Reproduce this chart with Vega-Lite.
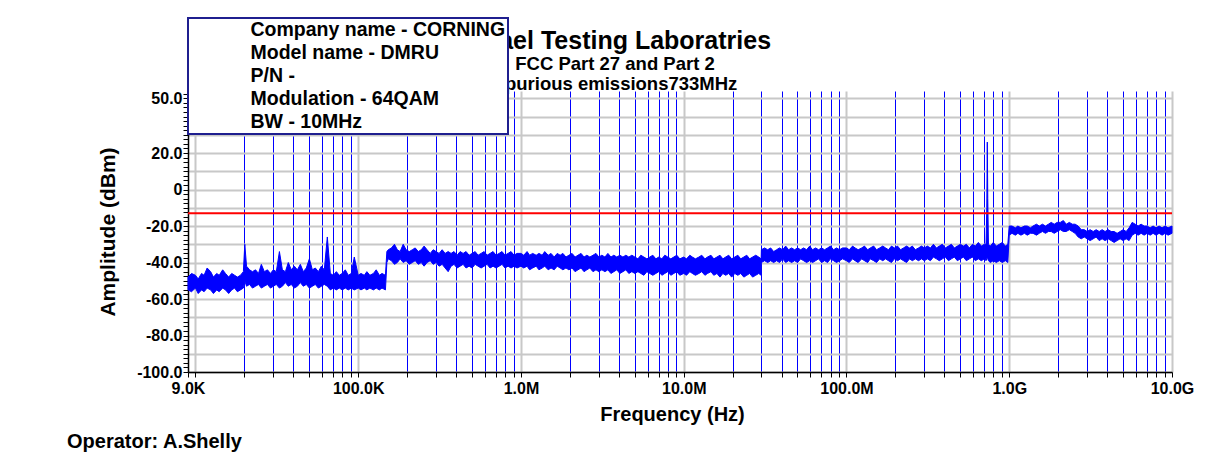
{
  "$schema": "https://vega.github.io/schema/vega-lite/v6.json",
  "width": 984,
  "height": 281,
  "autosize": {"type": "none"},
  "padding": {"left": 188, "top": 91, "right": 57, "bottom": 85},
  "background": "white",
  "title": {
    "text": "Rafael Testing Laboratries",
    "subtitle": ["FCC Part 27 and Part 2", "Spurious emissions733MHz"],
    "fontSize": 25,
    "subtitleFontSize": 18.5,
    "fontWeight": "bold",
    "subtitleFontWeight": "bold",
    "color": "black",
    "subtitleColor": "black",
    "anchor": "middle",
    "dx": -65,
    "dy": 78,
    "offset": 2,
    "subtitlePadding": 1,
    "subtitleLineHeight": 20,
    "zindex": 0
  },
  "datasets": {
    "trace": [
      {"f":9000,"lo":-55,"hi":-48},{"f":9460,"lo":-56,"hi":-46},
      {"f":10000,"lo":-54,"hi":-47},{"f":10400,"lo":-57,"hi":-49},{"f":10900,"lo":-55,"hi":-46},{"f":11300,"lo":-56,"hi":-47},{"f":11800,"lo":-54,"hi":-43},{"f":12400,"lo":-55,"hi":-45},{"f":12900,"lo":-57,"hi":-48},{"f":13500,"lo":-55,"hi":-46},{"f":14000,"lo":-56,"hi":-47},{"f":14700,"lo":-54,"hi":-44},{"f":15300,"lo":-55,"hi":-46},{"f":16000,"lo":-57,"hi":-48},{"f":16700,"lo":-55,"hi":-46},{"f":17400,"lo":-54,"hi":-47},{"f":18100,"lo":-56,"hi":-48},{"f":18900,"lo":-55,"hi":-47},{"f":19700,"lo":-54,"hi":-45},{"f":20100,"lo":-50,"hi":-30},{"f":20600,"lo":-53,"hi":-42},{"f":21500,"lo":-52,"hi":-44},{"f":22400,"lo":-54,"hi":-45},{"f":23400,"lo":-53,"hi":-44},{"f":24400,"lo":-52,"hi":-46},{"f":25400,"lo":-54,"hi":-41},{"f":26500,"lo":-53,"hi":-45},{"f":27700,"lo":-52,"hi":-44},{"f":28900,"lo":-54,"hi":-46},{"f":30100,"lo":-53,"hi":-44},{"f":31400,"lo":-52,"hi":-45},{"f":32800,"lo":-54,"hi":-34},{"f":34200,"lo":-53,"hi":-44},{"f":35700,"lo":-51,"hi":-45},{"f":37200,"lo":-53,"hi":-40},{"f":38800,"lo":-52,"hi":-44},{"f":40500,"lo":-54,"hi":-42},{"f":42300,"lo":-53,"hi":-44},{"f":44100,"lo":-51,"hi":-41},{"f":46000,"lo":-53,"hi":-45},{"f":48000,"lo":-52,"hi":-43},{"f":50100,"lo":-54,"hi":-38},{"f":52300,"lo":-53,"hi":-44},{"f":54500,"lo":-52,"hi":-43},{"f":56900,"lo":-54,"hi":-45},{"f":59400,"lo":-53,"hi":-42},{"f":61900,"lo":-52,"hi":-44},{"f":64600,"lo":-53,"hi":-26},{"f":67400,"lo":-55,"hi":-46},{"f":70300,"lo":-54,"hi":-47},{"f":73400,"lo":-55,"hi":-45},{"f":76500,"lo":-54,"hi":-47},{"f":79800,"lo":-55,"hi":-46},{"f":83300,"lo":-54,"hi":-44},{"f":86900,"lo":-55,"hi":-47},{"f":90700,"lo":-54,"hi":-46},{"f":94600,"lo":-55,"hi":-37},
      {"f":100000,"lo":-54,"hi":-47},{"f":104000,"lo":-55,"hi":-46},{"f":109000,"lo":-54,"hi":-47},{"f":113000,"lo":-55,"hi":-45},{"f":118000,"lo":-54,"hi":-47},{"f":124000,"lo":-55,"hi":-46},{"f":129000,"lo":-54,"hi":-44},{"f":135000,"lo":-55,"hi":-47},{"f":140000,"lo":-54,"hi":-46},{"f":147000,"lo":-55,"hi":-47},{"f":150000,"lo":-40,"hi":-34},{"f":153000,"lo":-38,"hi":-33},{"f":160000,"lo":-39,"hi":-32},{"f":167000,"lo":-41,"hi":-30},{"f":174000,"lo":-40,"hi":-33},{"f":181000,"lo":-38,"hi":-34},{"f":189000,"lo":-40,"hi":-30},{"f":197000,"lo":-39,"hi":-33},{"f":206000,"lo":-41,"hi":-34},{"f":215000,"lo":-40,"hi":-33},{"f":224000,"lo":-39,"hi":-32},{"f":234000,"lo":-41,"hi":-34},{"f":244000,"lo":-40,"hi":-33},{"f":254000,"lo":-42,"hi":-31},{"f":265000,"lo":-40,"hi":-33},{"f":277000,"lo":-39,"hi":-35},{"f":289000,"lo":-41,"hi":-33},{"f":301000,"lo":-40,"hi":-34},{"f":314000,"lo":-42,"hi":-35},{"f":328000,"lo":-41,"hi":-33},{"f":342000,"lo":-43,"hi":-35},{"f":357000,"lo":-45,"hi":-34},{"f":372000,"lo":-42,"hi":-35},{"f":388000,"lo":-41,"hi":-34},{"f":405000,"lo":-43,"hi":-36},{"f":423000,"lo":-42,"hi":-34},{"f":441000,"lo":-41,"hi":-35},{"f":460000,"lo":-43,"hi":-34},{"f":480000,"lo":-42,"hi":-36},{"f":501000,"lo":-43,"hi":-35},{"f":523000,"lo":-41,"hi":-34},{"f":545000,"lo":-42,"hi":-36},{"f":569000,"lo":-43,"hi":-35},{"f":594000,"lo":-42,"hi":-34},{"f":619000,"lo":-41,"hi":-36},{"f":646000,"lo":-43,"hi":-35},{"f":674000,"lo":-42,"hi":-34},{"f":703000,"lo":-43,"hi":-36},{"f":734000,"lo":-42,"hi":-35},{"f":765000,"lo":-41,"hi":-34},{"f":798000,"lo":-43,"hi":-36},{"f":833000,"lo":-42,"hi":-35},{"f":869000,"lo":-43,"hi":-34},{"f":907000,"lo":-42,"hi":-36},{"f":946000,"lo":-43,"hi":-35},
      {"f":1000000,"lo":-42,"hi":-35},{"f":1040000,"lo":-43,"hi":-36},{"f":1090000,"lo":-42,"hi":-34},{"f":1130000,"lo":-44,"hi":-36},{"f":1180000,"lo":-43,"hi":-35},{"f":1240000,"lo":-42,"hi":-36},{"f":1290000,"lo":-44,"hi":-35},{"f":1350000,"lo":-43,"hi":-36},{"f":1400000,"lo":-42,"hi":-34},{"f":1470000,"lo":-44,"hi":-36},{"f":1530000,"lo":-43,"hi":-35},{"f":1600000,"lo":-44,"hi":-37},{"f":1670000,"lo":-42,"hi":-35},{"f":1740000,"lo":-43,"hi":-36},{"f":1810000,"lo":-44,"hi":-35},{"f":1890000,"lo":-43,"hi":-37},{"f":1970000,"lo":-44,"hi":-36},{"f":2060000,"lo":-43,"hi":-35},{"f":2150000,"lo":-45,"hi":-37},{"f":2240000,"lo":-44,"hi":-36},{"f":2340000,"lo":-43,"hi":-35},{"f":2440000,"lo":-45,"hi":-37},{"f":2540000,"lo":-44,"hi":-36},{"f":2650000,"lo":-43,"hi":-37},{"f":2770000,"lo":-45,"hi":-36},{"f":2890000,"lo":-44,"hi":-35},{"f":3010000,"lo":-45,"hi":-37},{"f":3140000,"lo":-44,"hi":-36},{"f":3280000,"lo":-45,"hi":-37},{"f":3420000,"lo":-44,"hi":-35},{"f":3570000,"lo":-46,"hi":-37},{"f":3720000,"lo":-45,"hi":-36},{"f":3880000,"lo":-44,"hi":-37},{"f":4050000,"lo":-46,"hi":-36},{"f":4230000,"lo":-45,"hi":-37},{"f":4410000,"lo":-44,"hi":-36},{"f":4600000,"lo":-46,"hi":-37},{"f":4800000,"lo":-45,"hi":-36},{"f":5010000,"lo":-46,"hi":-37},{"f":5230000,"lo":-45,"hi":-38},{"f":5450000,"lo":-46,"hi":-36},{"f":5690000,"lo":-47,"hi":-37},{"f":5940000,"lo":-45,"hi":-38},{"f":6190000,"lo":-46,"hi":-37},{"f":6460000,"lo":-47,"hi":-36},{"f":6740000,"lo":-46,"hi":-38},{"f":7030000,"lo":-45,"hi":-37},{"f":7340000,"lo":-47,"hi":-38},{"f":7650000,"lo":-46,"hi":-36},{"f":7980000,"lo":-45,"hi":-37},{"f":8330000,"lo":-47,"hi":-38},{"f":8690000,"lo":-46,"hi":-37},{"f":9070000,"lo":-45,"hi":-36},{"f":9460000,"lo":-47,"hi":-38},
      {"f":10000000,"lo":-46,"hi":-37},{"f":10400000,"lo":-47,"hi":-38},{"f":10900000,"lo":-45,"hi":-36},{"f":11300000,"lo":-46,"hi":-37},{"f":11800000,"lo":-47,"hi":-38},{"f":12400000,"lo":-46,"hi":-37},{"f":12900000,"lo":-45,"hi":-36},{"f":13500000,"lo":-47,"hi":-38},{"f":14000000,"lo":-46,"hi":-37},{"f":14700000,"lo":-45,"hi":-36},{"f":15300000,"lo":-47,"hi":-38},{"f":16000000,"lo":-46,"hi":-37},{"f":16700000,"lo":-48,"hi":-36},{"f":17400000,"lo":-46,"hi":-38},{"f":18100000,"lo":-47,"hi":-37},{"f":18900000,"lo":-46,"hi":-36},{"f":19700000,"lo":-48,"hi":-38},{"f":20600000,"lo":-46,"hi":-37},{"f":21500000,"lo":-47,"hi":-36},{"f":22400000,"lo":-46,"hi":-38},{"f":23400000,"lo":-48,"hi":-37},{"f":24400000,"lo":-47,"hi":-36},{"f":25400000,"lo":-46,"hi":-38},{"f":26500000,"lo":-48,"hi":-37},{"f":27700000,"lo":-47,"hi":-36},{"f":28900000,"lo":-46,"hi":-37},{"f":29900000,"lo":-47,"hi":-38},{"f":30000000,"lo":-40,"hi":-33},{"f":31400000,"lo":-39,"hi":-32},{"f":32800000,"lo":-40,"hi":-33},{"f":34200000,"lo":-39,"hi":-32},{"f":35700000,"lo":-40,"hi":-34},{"f":37200000,"lo":-39,"hi":-33},{"f":38800000,"lo":-40,"hi":-32},{"f":40500000,"lo":-38,"hi":-33},{"f":42300000,"lo":-40,"hi":-31},{"f":44100000,"lo":-39,"hi":-33},{"f":46000000,"lo":-40,"hi":-32},{"f":48000000,"lo":-39,"hi":-33},{"f":50100000,"lo":-40,"hi":-32},{"f":52300000,"lo":-38,"hi":-33},{"f":54500000,"lo":-39,"hi":-32},{"f":56900000,"lo":-40,"hi":-33},{"f":59400000,"lo":-39,"hi":-31},{"f":61900000,"lo":-40,"hi":-33},{"f":64600000,"lo":-39,"hi":-32},{"f":67400000,"lo":-38,"hi":-33},{"f":70300000,"lo":-40,"hi":-32},{"f":73400000,"lo":-39,"hi":-33},{"f":76500000,"lo":-40,"hi":-32},{"f":79800000,"lo":-38,"hi":-31},{"f":83300000,"lo":-39,"hi":-33},{"f":86900000,"lo":-40,"hi":-32},{"f":90700000,"lo":-39,"hi":-33},{"f":94600000,"lo":-38,"hi":-32},
      {"f":100000000,"lo":-39,"hi":-32},{"f":104000000,"lo":-40,"hi":-33},{"f":109000000,"lo":-38,"hi":-31},{"f":113000000,"lo":-39,"hi":-32},{"f":118000000,"lo":-40,"hi":-33},{"f":124000000,"lo":-38,"hi":-32},{"f":129000000,"lo":-39,"hi":-31},{"f":135000000,"lo":-40,"hi":-33},{"f":140000000,"lo":-38,"hi":-32},{"f":147000000,"lo":-39,"hi":-31},{"f":153000000,"lo":-40,"hi":-33},{"f":160000000,"lo":-38,"hi":-32},{"f":167000000,"lo":-39,"hi":-31},{"f":174000000,"lo":-38,"hi":-32},{"f":181000000,"lo":-39,"hi":-33},{"f":189000000,"lo":-40,"hi":-31},{"f":197000000,"lo":-38,"hi":-32},{"f":206000000,"lo":-39,"hi":-31},{"f":215000000,"lo":-38,"hi":-33},{"f":224000000,"lo":-39,"hi":-32},{"f":234000000,"lo":-40,"hi":-31},{"f":244000000,"lo":-38,"hi":-32},{"f":254000000,"lo":-39,"hi":-31},{"f":265000000,"lo":-38,"hi":-33},{"f":277000000,"lo":-39,"hi":-32},{"f":289000000,"lo":-38,"hi":-31},{"f":301000000,"lo":-39,"hi":-32},{"f":314000000,"lo":-38,"hi":-31},{"f":328000000,"lo":-39,"hi":-32},{"f":342000000,"lo":-37,"hi":-30},{"f":357000000,"lo":-38,"hi":-32},{"f":372000000,"lo":-39,"hi":-31},{"f":388000000,"lo":-38,"hi":-30},{"f":405000000,"lo":-37,"hi":-32},{"f":423000000,"lo":-39,"hi":-31},{"f":441000000,"lo":-38,"hi":-30},{"f":460000000,"lo":-37,"hi":-32},{"f":480000000,"lo":-39,"hi":-31},{"f":501000000,"lo":-38,"hi":-30},{"f":523000000,"lo":-37,"hi":-31},{"f":545000000,"lo":-39,"hi":-30},{"f":569000000,"lo":-38,"hi":-32},{"f":594000000,"lo":-37,"hi":-30},{"f":619000000,"lo":-39,"hi":-31},{"f":646000000,"lo":-38,"hi":-29},{"f":674000000,"lo":-39,"hi":-31},{"f":703000000,"lo":-38,"hi":-30},{"f":720000000,"lo":-39,"hi":-30},{"f":728000000,"lo":-38,"hi":-10},{"f":733000000,"lo":-37,"hi":26},{"f":738000000,"lo":-38,"hi":-5},{"f":745000000,"lo":-39,"hi":-30},{"f":765000000,"lo":-40,"hi":-31},{"f":798000000,"lo":-39,"hi":-29},{"f":833000000,"lo":-40,"hi":-31},{"f":869000000,"lo":-39,"hi":-30},{"f":907000000,"lo":-40,"hi":-29},{"f":946000000,"lo":-39,"hi":-31},{"f":980000000,"lo":-40,"hi":-30},
      {"f":1000000000,"lo":-25,"hi":-20},{"f":1040000000,"lo":-24,"hi":-20},{"f":1090000000,"lo":-25,"hi":-21},{"f":1130000000,"lo":-24,"hi":-20},{"f":1180000000,"lo":-25,"hi":-21},{"f":1240000000,"lo":-24,"hi":-20},{"f":1290000000,"lo":-25,"hi":-20},{"f":1350000000,"lo":-24,"hi":-21},{"f":1400000000,"lo":-24,"hi":-20},{"f":1470000000,"lo":-25,"hi":-19},{"f":1530000000,"lo":-24,"hi":-20},{"f":1600000000,"lo":-23,"hi":-19},{"f":1670000000,"lo":-24,"hi":-20},{"f":1740000000,"lo":-23,"hi":-19},{"f":1810000000,"lo":-23,"hi":-18},{"f":1890000000,"lo":-24,"hi":-19},{"f":1970000000,"lo":-23,"hi":-18},{"f":2060000000,"lo":-22,"hi":-18},{"f":2150000000,"lo":-23,"hi":-17},{"f":2240000000,"lo":-23,"hi":-19},{"f":2340000000,"lo":-22,"hi":-18},{"f":2440000000,"lo":-23,"hi":-19},{"f":2540000000,"lo":-24,"hi":-19},{"f":2650000000,"lo":-26,"hi":-20},{"f":2770000000,"lo":-27,"hi":-22},{"f":2890000000,"lo":-26,"hi":-22},{"f":3010000000,"lo":-27,"hi":-23},{"f":3140000000,"lo":-28,"hi":-22},{"f":3280000000,"lo":-27,"hi":-23},{"f":3420000000,"lo":-26,"hi":-22},{"f":3570000000,"lo":-28,"hi":-23},{"f":3720000000,"lo":-27,"hi":-22},{"f":3880000000,"lo":-28,"hi":-23},{"f":4050000000,"lo":-27,"hi":-22},{"f":4230000000,"lo":-28,"hi":-23},{"f":4410000000,"lo":-29,"hi":-23},{"f":4600000000,"lo":-28,"hi":-24},{"f":4800000000,"lo":-27,"hi":-23},{"f":5010000000,"lo":-28,"hi":-22},{"f":5230000000,"lo":-27,"hi":-23},{"f":5450000000,"lo":-28,"hi":-21},{"f":5690000000,"lo":-25,"hi":-18},{"f":5940000000,"lo":-24,"hi":-19},{"f":6190000000,"lo":-25,"hi":-20},{"f":6460000000,"lo":-24,"hi":-19},{"f":6740000000,"lo":-25,"hi":-20},{"f":7030000000,"lo":-24,"hi":-20},{"f":7340000000,"lo":-25,"hi":-21},{"f":7650000000,"lo":-24,"hi":-20},{"f":7980000000,"lo":-25,"hi":-21},{"f":8330000000,"lo":-24,"hi":-20},{"f":8690000000,"lo":-25,"hi":-21},{"f":9070000000,"lo":-24,"hi":-20},{"f":9460000000,"lo":-25,"hi":-21},{"f":10000000000,"lo":-24,"hi":-20}
    ],
    "limit": [{"limit": -13}],
    "info": [
      {"info": "Company name - CORNING"},
      {"info": "Model name - DMRU"},
      {"info": "P/N -"},
      {"info": "Modulation - 64QAM"},
      {"info": "BW - 10MHz"}
    ],
    "operator": [{"operator": "Operator: A.Shelly"}]
  },
  "layer": [
    {
      "data": {"name": "trace"},
      "mark": {"type": "area", "color": "#0000ff", "stroke": "#0000ff", "strokeWidth": 1, "opacity": 1, "interpolate": "linear"},
      "encoding": {
        "x": {
          "field": "f", "type": "quantitative",
          "scale": {"type": "log", "domain": [9000, 10000000000], "nice": false},
          "axis": {
            "title": "Frequency (Hz)",
            "titleFontSize": 20,
            "titlePadding": 8,
            "titleX": 484,
            "tickCount": 1000,
            "values": [9000,10000,20000,30000,40000,50000,60000,70000,80000,90000,100000,200000,300000,400000,500000,600000,700000,800000,900000,1000000,2000000,3000000,4000000,5000000,6000000,7000000,8000000,9000000,10000000,20000000,30000000,40000000,50000000,60000000,70000000,80000000,90000000,100000000,200000000,300000000,400000000,500000000,600000000,700000000,800000000,900000000,1000000000,2000000000,3000000000,4000000000,5000000000,6000000000,7000000000,8000000000,9000000000,10000000000],
            "labelExpr": "datum.value == 9000 ? '9.0K' : datum.value == 100000 ? '100.0K' : datum.value == 1000000 ? '1.0M' : datum.value == 10000000 ? '10.0M' : datum.value == 100000000 ? '100.0M' : datum.value == 1000000000 ? '1.0G' : datum.value == 10000000000 ? '10.0G' : ''",
            "labelFontSize": 16,
            "labelPadding": 3,
            "labelOverlap": false,
            "labelFlush": false,
            "labelBound": false,
            "tickSize": 5,
            "domainWidth": 1.5,
            "grid": true,
            "gridColor": {"condition": {"test": "abs(log(datum.value)/LN10 - round(log(datum.value)/LN10)) < 0.000001", "value": "#c8c8c8"}, "value": "#0000ff"},
            "gridWidth": {"condition": {"test": "abs(log(datum.value)/LN10 - round(log(datum.value)/LN10)) < 0.000001", "value": 2}, "value": 1},
            "gridOpacity": 1
          }
        },
        "y": {
          "field": "lo", "type": "quantitative",
          "scale": {"domain": [-100, 54], "nice": false, "zero": false},
          "axis": {
            "title": "Amplitude (dBm)",
            "titleFontSize": 21,
            "titlePadding": 18,
            "tickCount": 1000,
            "values": [-100,-97.5,-95,-92.5,-90,-87.5,-85,-82.5,-80,-77.5,-75,-72.5,-70,-67.5,-65,-62.5,-60,-57.5,-55,-52.5,-50,-47.5,-45,-42.5,-40,-37.5,-35,-32.5,-30,-27.5,-25,-22.5,-20,-17.5,-15,-12.5,-10,-7.5,-5,-2.5,0,2.5,5,7.5,10,12.5,15,17.5,20,22.5,25,27.5,30,32.5,35,37.5,40,42.5,45,47.5,50,52.5],
            "labelExpr": "datum.value == 50 ? '50.0' : datum.value == 20 ? '20.0' : datum.value == 0 ? '0' : datum.value == -20 ? '-20.0' : datum.value == -40 ? '-40.0' : datum.value == -60 ? '-60.0' : datum.value == -80 ? '-80.0' : datum.value == -100 ? '-100.0' : ''",
            "labelFontSize": {"condition": {"test": "indexof([50, 20, 0, -20, -40, -60, -80, -100], datum.value) >= 0", "value": 16}, "value": 0},
            "labelPadding": 1,
            "labelOverlap": false,
            "labelFlush": false,
            "labelBound": false,
            "tickSize": 5,
            "domainWidth": 1.5,
            "grid": true,
            "gridColor": "#c8c8c8",
            "gridWidth": 2,
            "gridOpacity": {"condition": {"test": "datum.value % 10 == 0", "value": 1}, "value": 0}
          }
        },
        "y2": {"field": "hi"}
      }
    },
    {
      "data": {"name": "limit"},
      "mark": {"type": "rule", "color": "#ff0000", "strokeWidth": 2},
      "encoding": {
        "y": {"field": "limit", "type": "quantitative", "title": "Amplitude (dBm)", "axis": {"labelOverlap": false, "tickCount": 1000}}
      }
    },
    {
      "data": {"name": "info"},
      "mark": {"type": "point", "opacity": 0},
      "encoding": {
        "color": {
          "field": "info", "type": "nominal",
          "scale": {"domain": ["Company name - CORNING", "Model name - DMRU", "P/N -", "Modulation - 64QAM", "BW - 10MHz"], "range": ["#0000ff", "#0000ff", "#0000ff", "#0000ff", "#0000ff"]},
          "legend": {
            "title": null,
            "orient": "none",
            "legendX": 0,
            "legendY": -73,
            "fillColor": "white",
            "strokeColor": "#1f1f8f",
            "padding": 2,
            "rowPadding": 2,
            "labelFontSize": 19.5,
            "labelFontWeight": "bold",
            "labelColor": "black",
            "labelLimit": 400,
            "labelOffset": 41,
            "symbolOpacity": 0,
            "symbolSize": 100,
            "symbolType": "square",
            "zindex": 1
          }
        }
      }
    },
    {
      "data": {"name": "operator"},
      "mark": {"type": "text", "align": "left", "baseline": "alphabetic", "dx": -121, "dy": 76, "fontSize": 20, "fontWeight": "bold", "color": "black"},
      "encoding": {
        "x": {"datum": 9000},
        "y": {"datum": -100},
        "text": {"field": "operator"}
      }
    }
  ],
  "config": {
    "font": "Liberation Sans",
    "view": {"stroke": null},
    "axis": {"labelColor": "black", "titleColor": "black", "labelFontWeight": "bold", "titleFontWeight": "bold", "domainColor": "black", "tickColor": "black", "labelOverlap": false},
    "legend": {"strokeWidth": 2}
  }
}
